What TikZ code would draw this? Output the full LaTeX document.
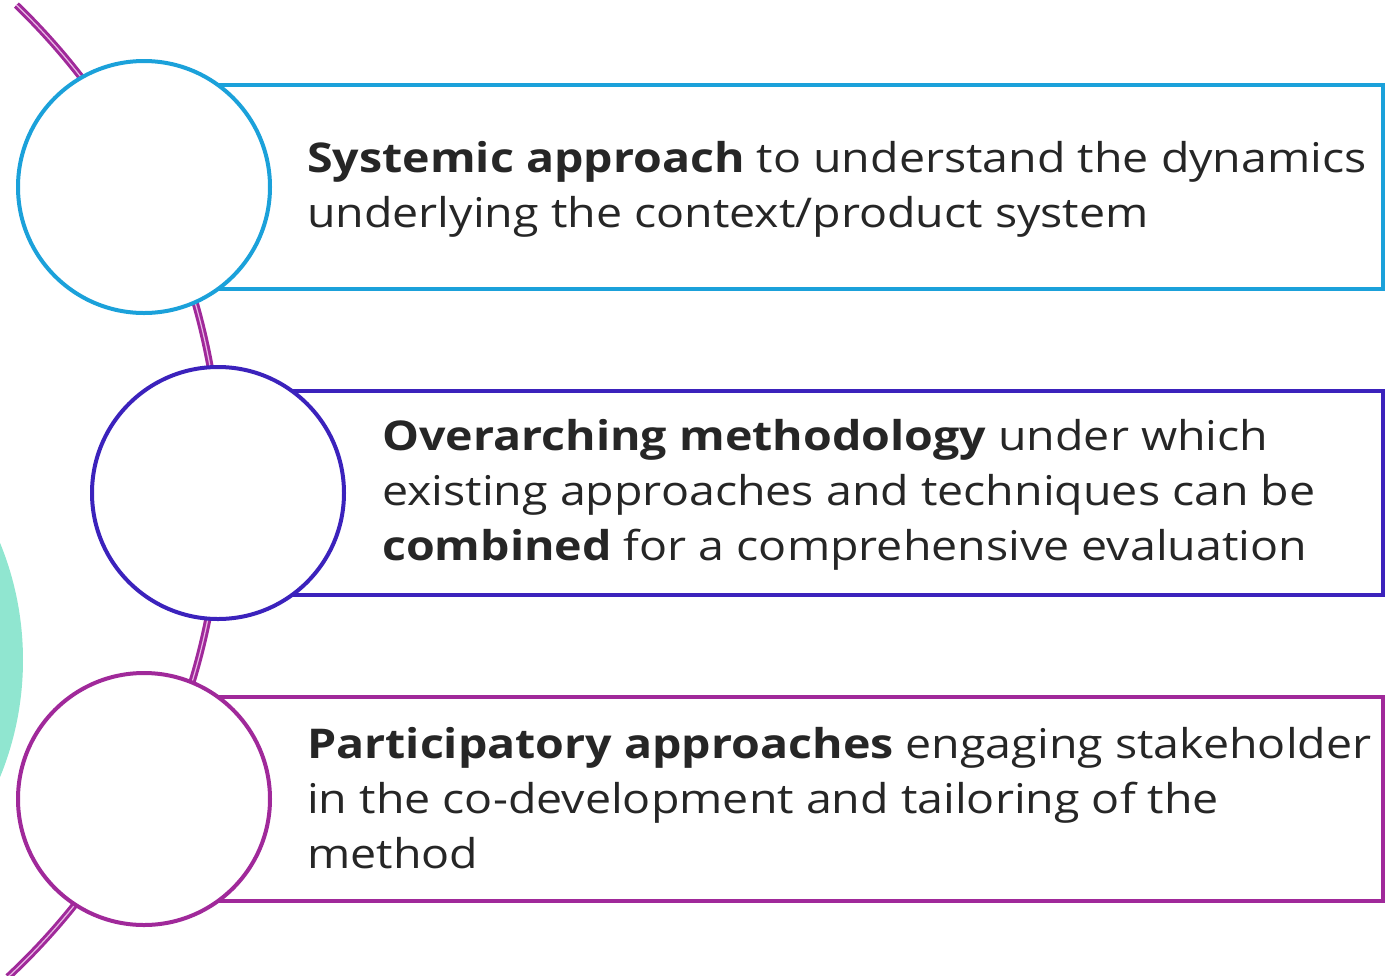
\documentclass[tikz,border=0pt]{standalone}
\usepackage{fontspec}
\setmainfont{Open Sans}[FakeStretch=1.135]
\definecolor{cblue}{HTML}{1BA1DA}
\definecolor{cindigo}{HTML}{3B22BC}
\definecolor{cpurple}{HTML}{A0299A}
\definecolor{cteal}{HTML}{90E6D0}
\definecolor{ctext}{HTML}{262626}
\definecolor{cpink}{HTML}{E8B8E4}
\tikzset{
  ring/.style={circle, draw=#1, line width=4pt, fill=white, minimum size=252pt, inner sep=0pt},
  panel/.style={draw=#1, line width=4pt, fill=white},
  label/.style={anchor=base west, align=left, inner sep=0pt, text=ctext,
    font=\fontsize{41}{55}\selectfont},
  spine/.style={draw=cpurple, line width=3pt, double=cpink, double distance=1.2pt}
}
\begin{document}
\begin{tikzpicture}[x=1pt,y=-1pt]
\useasboundingbox (0,0) rectangle (1395,975);
\clip (0,0) rectangle (1395,975);
% teal background disc
\fill[cteal] (-286,660) circle[radius=309];
% spine arc
\draw[spine] (-449,487) ++(-46:670) arc[start angle=-46, end angle=47, radius=670];
% panels
\draw[panel=cblue] (144,85) rectangle (1383,289);
\draw[panel=cindigo] (218,391) rectangle (1383,595);
\draw[panel=cpurple] (144,697) rectangle (1383,901);
% rings
\node[ring=cblue] (c1) at (144,187) {};
\node[ring=cindigo] (c2) at (218,493) {};
\node[ring=cpurple] (c3) at (144,799) {};
% texts (anchor = baseline of the last line)
\node[label] (t1) at (307,227) {\textbf{Systemic approach} to understand the dynamics\\underlying the context/product system};
\node[label] (t2) at (382,560) {\textbf{Overarching methodology} under which\\existing approaches and techniques can be\\\textbf{combined} for a comprehensive evaluation};
\node[label] (t3) at (307,868) {\textbf{Participatory approaches} engaging stakeholder\\in the co-development and tailoring of the\\method};
\end{tikzpicture}
\end{document}
